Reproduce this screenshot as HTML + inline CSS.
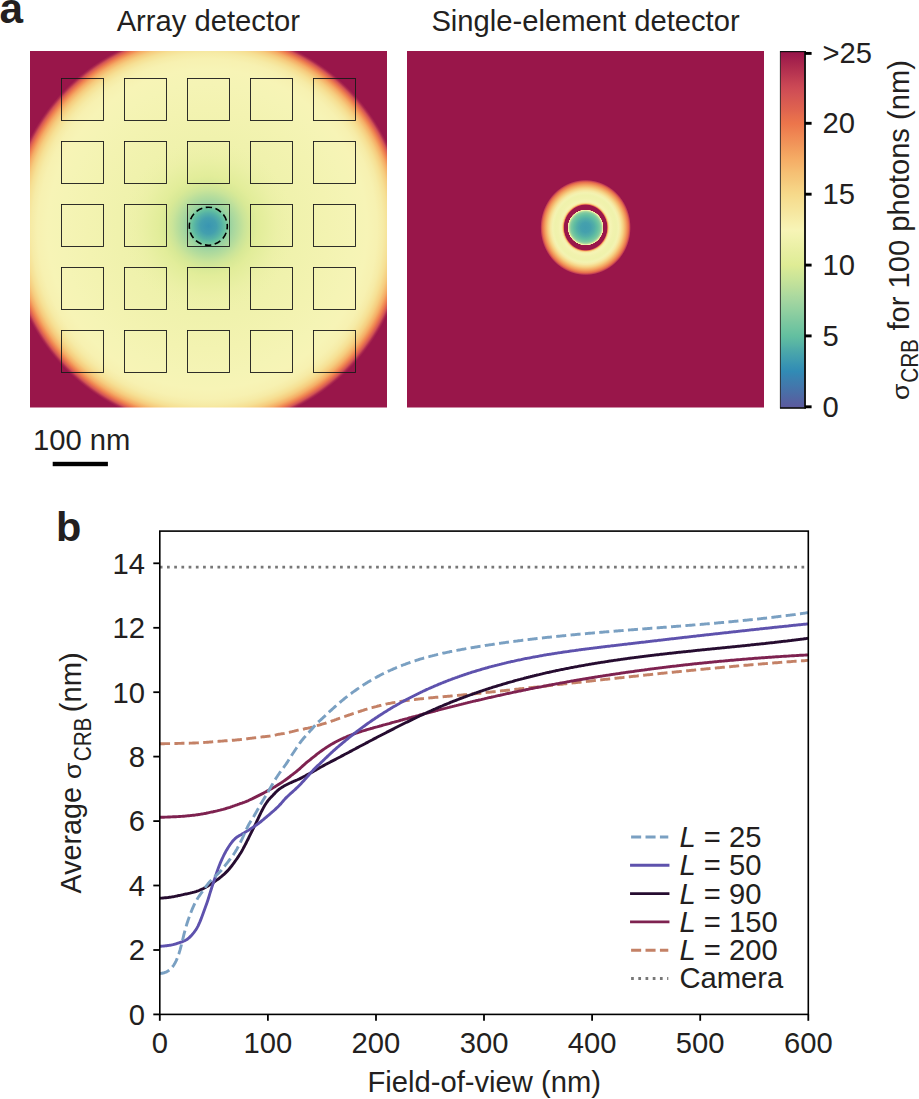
<!DOCTYPE html>
<html><head><meta charset="utf-8"><style>
html,body{margin:0;padding:0;background:#fff;overflow:hidden;}
svg{display:block;}
text{font-family:"Liberation Sans", sans-serif;fill:#231f20;}
</style></head><body>
<svg width="919" height="1099" viewBox="0 0 919 1099">
<defs>
<radialGradient id="gA" gradientUnits="userSpaceOnUse" cx="207.3" cy="229.0" r="215.0"><stop offset="0.0000" stop-color="#ecf1a8"/><stop offset="0.2791" stop-color="#edf1a9"/><stop offset="0.4186" stop-color="#f0f2ad"/><stop offset="0.5581" stop-color="#f3f3b1"/><stop offset="0.6744" stop-color="#f5f4b5"/><stop offset="0.7442" stop-color="#f7f4b6"/><stop offset="0.7907" stop-color="#f7f1b1"/><stop offset="0.8186" stop-color="#f6eba6"/><stop offset="0.8419" stop-color="#f6e094"/><stop offset="0.8628" stop-color="#f6cc7e"/><stop offset="0.8814" stop-color="#f5ac65"/><stop offset="0.8977" stop-color="#ee7e4f"/><stop offset="0.9116" stop-color="#d35354"/><stop offset="0.9209" stop-color="#aa274e"/><stop offset="0.9279" stop-color="#99164a"/><stop offset="1.0000" stop-color="#99164a"/></radialGradient>
<radialGradient id="gB" gradientUnits="userSpaceOnUse" cx="208.4" cy="226.0" r="85.0"><stop offset="0.0000" stop-color="#3995b2" stop-opacity="1.000"/><stop offset="0.0941" stop-color="#439fae" stop-opacity="1.000"/><stop offset="0.1529" stop-color="#55b1a6" stop-opacity="1.000"/><stop offset="0.1882" stop-color="#63bfa0" stop-opacity="1.000"/><stop offset="0.2118" stop-color="#73c5a0" stop-opacity="1.000"/><stop offset="0.2294" stop-color="#87cca0" stop-opacity="1.000"/><stop offset="0.2471" stop-color="#97d2a0" stop-opacity="1.000"/><stop offset="0.2941" stop-color="#a7d79f" stop-opacity="1.000"/><stop offset="0.3529" stop-color="#b6dd9c" stop-opacity="1.000"/><stop offset="0.4235" stop-color="#cae499" stop-opacity="1.000"/><stop offset="0.4941" stop-color="#d8e996" stop-opacity="1.000"/><stop offset="0.5882" stop-color="#e2ed9a" stop-opacity="1.000"/><stop offset="0.7059" stop-color="#e7efa1" stop-opacity="1.000"/><stop offset="0.8471" stop-color="#ebf0a6" stop-opacity="0.520"/><stop offset="1.0000" stop-color="#edf1a9" stop-opacity="0.000"/></radialGradient>
<radialGradient id="gSo" gradientUnits="userSpaceOnUse" cx="585.6" cy="227.5" r="48.0" gradientTransform="translate(585.6,227.5) scale(1,1.055) translate(-585.6,-227.5)"><stop offset="0.0000" stop-color="#99164a"/><stop offset="0.4417" stop-color="#99164a"/><stop offset="0.4500" stop-color="#c34053"/><stop offset="0.4604" stop-color="#f08b55"/><stop offset="0.4750" stop-color="#f6d183"/><stop offset="0.4937" stop-color="#f7edaa"/><stop offset="0.5208" stop-color="#f5f4b5"/><stop offset="0.5729" stop-color="#f1f2ae"/><stop offset="0.6354" stop-color="#eff2ac"/><stop offset="0.6875" stop-color="#f3f3b2"/><stop offset="0.7292" stop-color="#f6e9a4"/><stop offset="0.7812" stop-color="#f6d183"/><stop offset="0.8438" stop-color="#f3a15f"/><stop offset="0.8958" stop-color="#e66d4d"/><stop offset="0.9229" stop-color="#c34053"/><stop offset="0.9417" stop-color="#99164a"/><stop offset="0.9583" stop-color="#99164a"/><stop offset="1.0000" stop-color="#99164a"/></radialGradient>
<radialGradient id="gSi" gradientUnits="userSpaceOnUse" cx="585.6" cy="227.5" r="21.4"><stop offset="0.0000" stop-color="#419dae"/><stop offset="0.2336" stop-color="#45a1ad"/><stop offset="0.4206" stop-color="#53afa7"/><stop offset="0.5607" stop-color="#63bfa0"/><stop offset="0.6776" stop-color="#7dc8a0"/><stop offset="0.7477" stop-color="#a4d6a0"/><stop offset="0.7804" stop-color="#d3e897"/><stop offset="0.8037" stop-color="#f2f3b0"/><stop offset="0.8224" stop-color="#f6e9a4"/><stop offset="0.8364" stop-color="#99164a"/><stop offset="1.0000" stop-color="#99164a"/></radialGradient>
<linearGradient id="gC" x1="0" y1="1" x2="0" y2="0"><stop offset="0.0000" stop-color="#5b5a9e"/><stop offset="0.0034" stop-color="#5b5a9e"/><stop offset="0.0232" stop-color="#5364a2"/><stop offset="0.0431" stop-color="#4a6ea7"/><stop offset="0.0630" stop-color="#4278ac"/><stop offset="0.0828" stop-color="#3a81b0"/><stop offset="0.1027" stop-color="#318bb5"/><stop offset="0.1226" stop-color="#3995b2"/><stop offset="0.1425" stop-color="#439fae"/><stop offset="0.1623" stop-color="#4da9a9"/><stop offset="0.1822" stop-color="#59b5a4"/><stop offset="0.2021" stop-color="#63bfa0"/><stop offset="0.2219" stop-color="#70c4a0"/><stop offset="0.2418" stop-color="#7dc8a0"/><stop offset="0.2617" stop-color="#8acda0"/><stop offset="0.2815" stop-color="#97d2a0"/><stop offset="0.3014" stop-color="#a4d6a0"/><stop offset="0.3213" stop-color="#b0db9e"/><stop offset="0.3411" stop-color="#bddf9b"/><stop offset="0.3610" stop-color="#c8e499"/><stop offset="0.3809" stop-color="#d3e897"/><stop offset="0.4008" stop-color="#dfec95"/><stop offset="0.4206" stop-color="#e3ee9c"/><stop offset="0.4405" stop-color="#e8efa2"/><stop offset="0.4604" stop-color="#edf1a9"/><stop offset="0.4802" stop-color="#f2f3b0"/><stop offset="0.5001" stop-color="#f7f4b6"/><stop offset="0.5200" stop-color="#f7efad"/><stop offset="0.5398" stop-color="#f6e9a4"/><stop offset="0.5597" stop-color="#f6e49b"/><stop offset="0.5796" stop-color="#f6df93"/><stop offset="0.5995" stop-color="#f6d98a"/><stop offset="0.6193" stop-color="#f6d183"/><stop offset="0.6392" stop-color="#f5c87b"/><stop offset="0.6591" stop-color="#f5c074"/><stop offset="0.6789" stop-color="#f5b56c"/><stop offset="0.6988" stop-color="#f5ac65"/><stop offset="0.7187" stop-color="#f3a15f"/><stop offset="0.7385" stop-color="#f1965a"/><stop offset="0.7584" stop-color="#f08b55"/><stop offset="0.7783" stop-color="#ee8050"/><stop offset="0.7981" stop-color="#ec754b"/><stop offset="0.8180" stop-color="#e66d4d"/><stop offset="0.8379" stop-color="#df634f"/><stop offset="0.8578" stop-color="#d95b51"/><stop offset="0.8776" stop-color="#d35354"/><stop offset="0.8975" stop-color="#cd4a55"/><stop offset="0.9174" stop-color="#c34053"/><stop offset="0.9372" stop-color="#b83551"/><stop offset="0.9571" stop-color="#ae2b4e"/><stop offset="0.9770" stop-color="#a3204c"/><stop offset="0.9968" stop-color="#99164a"/><stop offset="1.0000" stop-color="#99164a"/></linearGradient>
<clipPath id="clP"><rect x="159.8" y="531.1" width="648.5" height="483.3"/></clipPath>
</defs>
<text x="-0.6" y="23.0" style="font-size:42.3px;font-weight:bold">a</text>
<text transform="translate(208.30,30.70) scale(1.000,1)" text-anchor="middle" style="font-size:29.20px">Array detector</text>
<text transform="translate(585.50,30.90) scale(1.000,1)" text-anchor="middle" style="font-size:29.20px">Single-element detector</text>
<rect x="30" y="51" width="357" height="356.5" fill="url(#gA)"/>
<rect x="30" y="51" width="357" height="356.5" fill="url(#gB)"/>
<g fill="none" stroke="#1a1a1a" stroke-width="0.9"><rect x="61.5" y="78.5" width="42" height="42"/><rect x="61.5" y="141.5" width="42" height="42"/><rect x="61.5" y="204.5" width="42" height="42"/><rect x="61.5" y="267.5" width="42" height="42"/><rect x="61.5" y="330.5" width="42" height="42"/><rect x="124.5" y="78.5" width="42" height="42"/><rect x="124.5" y="141.5" width="42" height="42"/><rect x="124.5" y="204.5" width="42" height="42"/><rect x="124.5" y="267.5" width="42" height="42"/><rect x="124.5" y="330.5" width="42" height="42"/><rect x="187.5" y="78.5" width="42" height="42"/><rect x="187.5" y="141.5" width="42" height="42"/><rect x="187.5" y="204.5" width="42" height="42"/><rect x="187.5" y="267.5" width="42" height="42"/><rect x="187.5" y="330.5" width="42" height="42"/><rect x="250.5" y="78.5" width="42" height="42"/><rect x="250.5" y="141.5" width="42" height="42"/><rect x="250.5" y="204.5" width="42" height="42"/><rect x="250.5" y="267.5" width="42" height="42"/><rect x="250.5" y="330.5" width="42" height="42"/><rect x="313.5" y="78.5" width="42" height="42"/><rect x="313.5" y="141.5" width="42" height="42"/><rect x="313.5" y="204.5" width="42" height="42"/><rect x="313.5" y="267.5" width="42" height="42"/><rect x="313.5" y="330.5" width="42" height="42"/></g>
<circle cx="208.3" cy="226.2" r="19" fill="none" stroke="#000" stroke-width="1.6" stroke-dasharray="6.5 3.449" stroke-dashoffset="3.25"/>
<rect x="407" y="51" width="357" height="356.5" fill="url(#gSo)"/>
<circle cx="585.6" cy="227.5" r="21.4" fill="url(#gSi)"/>
<rect x="780.3" y="51.4" width="24.7" height="356.6" fill="url(#gC)" stroke="#111" stroke-width="0.8"/>
<line x1="780" y1="408" x2="806" y2="408" stroke="#111" stroke-width="1.4"/>
<line x1="780" y1="51.6" x2="806" y2="51.6" stroke="#111" stroke-width="1.2"/>
<line x1="805" y1="51" x2="805" y2="408.5" stroke="#111" stroke-width="1.8"/>
<g stroke="#000" stroke-width="2.9"><line x1="805" y1="53.4" x2="811.6" y2="53.4"/><line x1="805" y1="123.3" x2="811.6" y2="123.3"/><line x1="805" y1="194.2" x2="811.6" y2="194.2"/><line x1="805" y1="265.1" x2="811.6" y2="265.1"/><line x1="805" y1="335.9" x2="811.6" y2="335.9"/><line x1="805" y1="406.8" x2="811.6" y2="406.8"/></g>
<text transform="translate(822.50,63.10) scale(1.000,1)" text-anchor="start" style="font-size:29.20px">&gt;25</text><text transform="translate(822.50,133.00) scale(1.000,1)" text-anchor="start" style="font-size:29.20px">20</text><text transform="translate(822.50,203.88) scale(1.000,1)" text-anchor="start" style="font-size:29.20px">15</text><text transform="translate(822.50,274.75) scale(1.000,1)" text-anchor="start" style="font-size:29.20px">10</text><text transform="translate(822.50,345.62) scale(1.000,1)" text-anchor="start" style="font-size:29.20px">5</text><text transform="translate(822.50,416.50) scale(1.000,1)" text-anchor="start" style="font-size:29.20px">0</text>
<g transform="translate(909.0,399.0) rotate(-90)"><text transform="translate(-1.10,0.00) scale(1.083,1)" text-anchor="start" style="font-size:24.60px">σ</text><text transform="translate(16.20,9.20) scale(0.900,1)" text-anchor="start" style="font-size:23.00px">CRB</text><text transform="translate(68.50,0.00) scale(0.998,1)" text-anchor="start" style="font-size:29.20px">for 100 photons (nm)</text></g>
<text transform="translate(33.00,449.80) scale(1.000,1)" text-anchor="start" style="font-size:29.20px">100 nm</text>
<rect x="52.7" y="461.8" width="55.2" height="4.4" fill="#000"/>
<text x="56" y="540.7" style="font-size:41.5px;font-weight:bold">b</text>
<line x1="159.8" y1="567.1" x2="808.3" y2="567.1" stroke="#777777" stroke-width="2.9" stroke-dasharray="2.72 4.49"/>
<g clip-path="url(#clP)" fill="none" stroke-width="2.9" stroke-linejoin="round">
<path d="M160.0 743.7 L161.0 743.7 L162.0 743.7 L163.0 743.7 L164.0 743.7 L165.0 743.6 L166.0 743.6 L167.0 743.6 L168.0 743.6 L169.0 743.6 L170.0 743.6 L171.0 743.6 L172.0 743.5 L173.0 743.5 L174.0 743.5 L175.0 743.5 L176.0 743.5 L177.0 743.5 L178.0 743.4 L179.0 743.4 L180.0 743.4 L181.0 743.4 L182.0 743.3 L183.0 743.3 L184.0 743.3 L185.0 743.3 L186.0 743.3 L187.0 743.2 L188.0 743.2 L189.0 743.2 L190.0 743.1 L191.0 743.1 L192.0 743.1 L193.0 743.0 L194.0 743.0 L195.0 743.0 L196.0 742.9 L197.0 742.9 L198.0 742.9 L199.0 742.8 L200.0 742.8 L201.0 742.7 L202.0 742.7 L203.0 742.6 L204.0 742.5 L205.0 742.4 L206.0 742.4 L207.0 742.3 L208.0 742.2 L209.0 742.1 L210.0 742.0 L211.0 742.0 L212.0 741.9 L213.0 741.8 L214.0 741.7 L215.0 741.6 L216.0 741.5 L217.0 741.4 L218.0 741.4 L219.0 741.3 L220.0 741.2 L221.0 741.1 L222.0 741.1 L223.0 741.0 L224.0 740.9 L225.0 740.8 L226.0 740.8 L227.0 740.7 L228.0 740.6 L229.0 740.6 L230.0 740.5 L231.0 740.4 L232.0 740.3 L233.0 740.3 L234.0 740.2 L235.0 740.1 L236.0 740.0 L237.0 739.9 L238.0 739.8 L239.0 739.7 L240.0 739.6 L241.0 739.5 L242.0 739.4 L243.0 739.3 L244.0 739.2 L245.0 739.1 L246.0 738.9 L247.0 738.8 L248.0 738.7 L249.0 738.5 L250.0 738.4 L251.0 738.3 L252.0 738.1 L253.0 738.0 L254.0 737.9 L255.0 737.8 L256.0 737.6 L257.0 737.5 L258.0 737.4 L259.0 737.3 L260.0 737.2 L261.0 737.1 L262.0 736.9 L263.0 736.8 L264.0 736.7 L265.0 736.6 L266.0 736.5 L267.0 736.4 L268.0 736.3 L269.0 736.1 L270.0 736.0 L271.0 735.8 L272.0 735.7 L273.0 735.5 L274.0 735.3 L275.0 735.1 L276.0 734.9 L277.0 734.6 L278.0 734.4 L279.0 734.2 L280.0 734.1 L281.0 733.9 L282.0 733.7 L283.0 733.6 L284.0 733.5 L285.0 733.3 L286.0 733.1 L287.0 732.9 L288.0 732.6 L289.0 732.4 L290.0 732.1 L291.0 731.8 L292.0 731.6 L293.0 731.3 L294.0 731.1 L295.0 730.8 L296.0 730.6 L297.0 730.4 L298.0 730.2 L299.0 730.0 L300.0 729.8 L301.0 729.6 L302.0 729.4 L303.0 729.2 L304.0 729.0 L305.0 728.7 L306.0 728.5 L307.0 728.3 L308.0 728.1 L309.0 727.8 L310.0 727.6 L311.0 727.3 L312.0 727.1 L313.0 726.8 L314.0 726.5 L315.0 726.2 L316.0 726.0 L317.0 725.7 L318.0 725.4 L319.0 725.1 L320.0 724.8 L321.0 724.5 L322.0 724.2 L323.0 723.9 L324.0 723.6 L325.0 723.3 L326.0 723.0 L327.0 722.6 L328.0 722.3 L329.0 722.0 L330.0 721.7 L331.0 721.3 L332.0 721.0 L333.0 720.6 L334.0 720.3 L335.0 719.9 L336.0 719.6 L337.0 719.2 L338.0 718.8 L339.0 718.5 L340.0 718.1 L341.0 717.8 L342.0 717.4 L343.0 717.1 L344.0 716.7 L345.0 716.4 L346.0 716.0 L347.0 715.7 L348.0 715.3 L349.0 715.0 L350.0 714.7 L351.0 714.3 L352.0 714.0 L353.0 713.6 L354.0 713.3 L355.0 713.0 L356.0 712.6 L357.0 712.3 L358.0 712.0 L359.0 711.6 L360.0 711.3 L361.0 711.0 L362.0 710.7 L363.0 710.4 L364.0 710.0 L365.0 709.7 L366.0 709.4 L367.0 709.1 L368.0 708.8 L369.0 708.5 L370.0 708.2 L371.0 707.9 L372.0 707.7 L373.0 707.4 L374.0 707.1 L375.0 706.8 L376.0 706.6 L377.0 706.3 L378.0 706.0 L379.0 705.8 L380.0 705.5 L381.0 705.3 L382.0 705.0 L383.0 704.8 L384.0 704.6 L385.0 704.4 L386.0 704.1 L387.0 703.9 L388.0 703.7 L389.0 703.5 L390.0 703.3 L391.0 703.1 L392.0 702.9 L393.0 702.7 L394.0 702.6 L395.0 702.4 L396.0 702.2 L397.0 702.0 L398.0 701.9 L399.0 701.7 L400.0 701.5 L401.0 701.4 L402.0 701.2 L403.0 701.1 L404.0 700.9 L405.0 700.8 L406.0 700.6 L407.0 700.5 L408.0 700.3 L409.0 700.2 L410.0 700.1 L411.0 700.0 L412.0 699.8 L413.0 699.7 L414.0 699.6 L415.0 699.5 L416.0 699.3 L417.0 699.2 L418.0 699.1 L419.0 699.0 L420.0 698.9 L421.0 698.8 L422.0 698.7 L423.0 698.6 L424.0 698.5 L425.0 698.4 L426.0 698.3 L427.0 698.2 L428.0 698.1 L429.0 698.0 L430.0 697.9 L431.0 697.8 L432.0 697.7 L433.0 697.6 L434.0 697.5 L435.0 697.4 L436.0 697.3 L437.0 697.3 L438.0 697.2 L439.0 697.1 L440.0 697.0 L441.0 696.9 L442.0 696.8 L443.0 696.7 L444.0 696.6 L445.0 696.5 L446.0 696.5 L447.0 696.4 L448.0 696.3 L449.0 696.2 L450.0 696.1 L451.0 696.0 L452.0 695.9 L453.0 695.8 L454.0 695.7 L455.0 695.6 L456.0 695.5 L457.0 695.4 L458.0 695.4 L459.0 695.3 L460.0 695.2 L461.0 695.1 L462.0 695.0 L463.0 694.9 L464.0 694.8 L465.0 694.7 L466.0 694.6 L467.0 694.5 L468.0 694.4 L469.0 694.3 L470.0 694.2 L471.0 694.1 L472.0 694.0 L473.0 693.9 L474.0 693.8 L475.0 693.7 L476.0 693.6 L477.0 693.5 L478.0 693.4 L479.0 693.3 L480.0 693.2 L481.0 693.1 L482.0 693.0 L483.0 692.8 L484.0 692.7 L485.0 692.6 L486.0 692.5 L487.0 692.4 L488.0 692.3 L489.0 692.2 L490.0 692.1 L491.0 692.0 L492.0 691.9 L493.0 691.8 L494.0 691.7 L495.0 691.6 L496.0 691.5 L497.0 691.4 L498.0 691.3 L499.0 691.1 L500.0 691.0 L501.0 690.9 L502.0 690.8 L503.0 690.7 L504.0 690.6 L505.0 690.5 L506.0 690.4 L507.0 690.3 L508.0 690.2 L509.0 690.1 L510.0 689.9 L511.0 689.8 L512.0 689.7 L513.0 689.6 L514.0 689.5 L515.0 689.4 L516.0 689.3 L517.0 689.2 L518.0 689.1 L519.0 688.9 L520.0 688.8 L521.0 688.7 L522.0 688.6 L523.0 688.5 L524.0 688.4 L525.0 688.3 L526.0 688.2 L527.0 688.1 L528.0 688.0 L529.0 687.8 L530.0 687.7 L531.0 687.6 L532.0 687.5 L533.0 687.4 L534.0 687.3 L535.0 687.2 L536.0 687.1 L537.0 687.0 L538.0 686.8 L539.0 686.7 L540.0 686.6 L541.0 686.5 L542.0 686.4 L543.0 686.3 L544.0 686.2 L545.0 686.1 L546.0 686.0 L547.0 685.8 L548.0 685.7 L549.0 685.6 L550.0 685.5 L551.0 685.4 L552.0 685.3 L553.0 685.2 L554.0 685.1 L555.0 685.0 L556.0 684.8 L557.0 684.7 L558.0 684.6 L559.0 684.5 L560.0 684.4 L561.0 684.3 L562.0 684.2 L563.0 684.1 L564.0 683.9 L565.0 683.8 L566.0 683.7 L567.0 683.6 L568.0 683.5 L569.0 683.4 L570.0 683.3 L571.0 683.2 L572.0 683.1 L573.0 682.9 L574.0 682.8 L575.0 682.7 L576.0 682.6 L577.0 682.5 L578.0 682.4 L579.0 682.3 L580.0 682.2 L581.0 682.1 L582.0 682.0 L583.0 681.8 L584.0 681.7 L585.0 681.6 L586.0 681.5 L587.0 681.4 L588.0 681.3 L589.0 681.2 L590.0 681.1 L591.0 681.0 L592.0 680.8 L593.0 680.7 L594.0 680.6 L595.0 680.5 L596.0 680.4 L597.0 680.3 L598.0 680.2 L599.0 680.1 L600.0 680.0 L601.0 679.9 L602.0 679.7 L603.0 679.6 L604.0 679.5 L605.0 679.4 L606.0 679.3 L607.0 679.2 L608.0 679.1 L609.0 679.0 L610.0 678.9 L611.0 678.8 L612.0 678.6 L613.0 678.5 L614.0 678.4 L615.0 678.3 L616.0 678.2 L617.0 678.1 L618.0 678.0 L619.0 677.9 L620.0 677.8 L621.0 677.7 L622.0 677.6 L623.0 677.5 L624.0 677.3 L625.0 677.2 L626.0 677.1 L627.0 677.0 L628.0 676.9 L629.0 676.8 L630.0 676.7 L631.0 676.6 L632.0 676.5 L633.0 676.4 L634.0 676.3 L635.0 676.2 L636.0 676.1 L637.0 676.0 L638.0 675.8 L639.0 675.7 L640.0 675.6 L641.0 675.5 L642.0 675.4 L643.0 675.3 L644.0 675.2 L645.0 675.1 L646.0 675.0 L647.0 674.9 L648.0 674.8 L649.0 674.7 L650.0 674.6 L651.0 674.5 L652.0 674.4 L653.0 674.3 L654.0 674.2 L655.0 674.0 L656.0 673.9 L657.0 673.8 L658.0 673.7 L659.0 673.6 L660.0 673.5 L661.0 673.4 L662.0 673.3 L663.0 673.2 L664.0 673.1 L665.0 673.0 L666.0 672.9 L667.0 672.8 L668.0 672.7 L669.0 672.6 L670.0 672.5 L671.0 672.4 L672.0 672.3 L673.0 672.2 L674.0 672.1 L675.0 672.0 L676.0 671.9 L677.0 671.8 L678.0 671.7 L679.0 671.6 L680.0 671.5 L681.0 671.4 L682.0 671.3 L683.0 671.2 L684.0 671.1 L685.0 671.0 L686.0 670.9 L687.0 670.8 L688.0 670.7 L689.0 670.6 L690.0 670.5 L691.0 670.4 L692.0 670.3 L693.0 670.2 L694.0 670.1 L695.0 670.0 L696.0 669.9 L697.0 669.8 L698.0 669.7 L699.0 669.6 L700.0 669.5 L701.0 669.4 L702.0 669.3 L703.0 669.2 L704.0 669.1 L705.0 669.0 L706.0 668.9 L707.0 668.8 L708.0 668.7 L709.0 668.6 L710.0 668.5 L711.0 668.4 L712.0 668.3 L713.0 668.2 L714.0 668.2 L715.0 668.1 L716.0 668.0 L717.0 667.9 L718.0 667.8 L719.0 667.7 L720.0 667.6 L721.0 667.5 L722.0 667.4 L723.0 667.3 L724.0 667.2 L725.0 667.1 L726.0 667.0 L727.0 666.9 L728.0 666.9 L729.0 666.8 L730.0 666.7 L731.0 666.6 L732.0 666.5 L733.0 666.4 L734.0 666.3 L735.0 666.2 L736.0 666.1 L737.0 666.0 L738.0 665.9 L739.0 665.9 L740.0 665.8 L741.0 665.7 L742.0 665.6 L743.0 665.5 L744.0 665.4 L745.0 665.3 L746.0 665.2 L747.0 665.2 L748.0 665.1 L749.0 665.0 L750.0 664.9 L751.0 664.8 L752.0 664.7 L753.0 664.6 L754.0 664.6 L755.0 664.5 L756.0 664.4 L757.0 664.3 L758.0 664.2 L759.0 664.1 L760.0 664.1 L761.0 664.0 L762.0 663.9 L763.0 663.8 L764.0 663.7 L765.0 663.6 L766.0 663.6 L767.0 663.5 L768.0 663.4 L769.0 663.3 L770.0 663.2 L771.0 663.1 L772.0 663.1 L773.0 663.0 L774.0 662.9 L775.0 662.8 L776.0 662.8 L777.0 662.7 L778.0 662.6 L779.0 662.5 L780.0 662.4 L781.0 662.4 L782.0 662.3 L783.0 662.2 L784.0 662.1 L785.0 662.1 L786.0 662.0 L787.0 661.9 L788.0 661.8 L789.0 661.7 L790.0 661.7 L791.0 661.6 L792.0 661.5 L793.0 661.4 L794.0 661.4 L795.0 661.3 L796.0 661.2 L797.0 661.2 L798.0 661.1 L799.0 661.0 L800.0 660.9 L801.0 660.9 L802.0 660.8 L803.0 660.7 L804.0 660.7 L805.0 660.6 L806.0 660.5 L807.0 660.4 L808.0 660.4" stroke="#c48166" stroke-dasharray="10.06 4.35"/>
<path d="M160.0 817.2 L161.0 817.2 L162.0 817.2 L163.0 817.2 L164.0 817.2 L165.0 817.1 L166.0 817.1 L167.0 817.1 L168.0 817.0 L169.0 817.0 L170.0 817.0 L171.0 816.9 L172.0 816.9 L173.0 816.8 L174.0 816.8 L175.0 816.7 L176.0 816.7 L177.0 816.6 L178.0 816.6 L179.0 816.5 L180.0 816.5 L181.0 816.4 L182.0 816.4 L183.0 816.3 L184.0 816.2 L185.0 816.1 L186.0 816.0 L187.0 815.9 L188.0 815.8 L189.0 815.7 L190.0 815.6 L191.0 815.5 L192.0 815.4 L193.0 815.3 L194.0 815.2 L195.0 815.1 L196.0 814.9 L197.0 814.8 L198.0 814.7 L199.0 814.5 L200.0 814.4 L201.0 814.2 L202.0 814.0 L203.0 813.9 L204.0 813.7 L205.0 813.5 L206.0 813.3 L207.0 813.0 L208.0 812.8 L209.0 812.6 L210.0 812.4 L211.0 812.2 L212.0 812.0 L213.0 811.8 L214.0 811.5 L215.0 811.3 L216.0 811.1 L217.0 810.9 L218.0 810.6 L219.0 810.4 L220.0 810.2 L221.0 809.9 L222.0 809.6 L223.0 809.4 L224.0 809.1 L225.0 808.8 L226.0 808.5 L227.0 808.2 L228.0 807.9 L229.0 807.6 L230.0 807.3 L231.0 806.9 L232.0 806.6 L233.0 806.2 L234.0 805.9 L235.0 805.5 L236.0 805.1 L237.0 804.8 L238.0 804.4 L239.0 804.1 L240.0 803.7 L241.0 803.4 L242.0 803.1 L243.0 802.7 L244.0 802.4 L245.0 802.0 L246.0 801.6 L247.0 801.2 L248.0 800.8 L249.0 800.3 L250.0 799.8 L251.0 799.3 L252.0 798.9 L253.0 798.4 L254.0 797.9 L255.0 797.4 L256.0 796.9 L257.0 796.4 L258.0 795.9 L259.0 795.4 L260.0 794.9 L261.0 794.4 L262.0 793.9 L263.0 793.4 L264.0 792.8 L265.0 792.3 L266.0 791.7 L267.0 791.1 L268.0 790.6 L269.0 790.0 L270.0 789.5 L271.0 789.0 L272.0 788.4 L273.0 787.8 L274.0 787.3 L275.0 786.7 L276.0 786.1 L277.0 785.4 L278.0 784.8 L279.0 784.2 L280.0 783.6 L281.0 782.9 L282.0 782.3 L283.0 781.6 L284.0 780.9 L285.0 780.2 L286.0 779.5 L287.0 778.8 L288.0 778.0 L289.0 777.3 L290.0 776.5 L291.0 775.7 L292.0 774.9 L293.0 774.2 L294.0 773.4 L295.0 772.6 L296.0 771.8 L297.0 771.0 L298.0 770.2 L299.0 769.3 L300.0 768.5 L301.0 767.5 L302.0 766.6 L303.0 765.7 L304.0 764.8 L305.0 763.9 L306.0 763.0 L307.0 762.2 L308.0 761.4 L309.0 760.6 L310.0 759.8 L311.0 759.0 L312.0 758.2 L313.0 757.4 L314.0 756.6 L315.0 755.8 L316.0 755.0 L317.0 754.2 L318.0 753.4 L319.0 752.7 L320.0 751.9 L321.0 751.2 L322.0 750.5 L323.0 749.8 L324.0 749.1 L325.0 748.4 L326.0 747.7 L327.0 747.1 L328.0 746.4 L329.0 745.8 L330.0 745.2 L331.0 744.6 L332.0 744.0 L333.0 743.4 L334.0 742.9 L335.0 742.3 L336.0 741.8 L337.0 741.3 L338.0 740.8 L339.0 740.3 L340.0 739.8 L341.0 739.3 L342.0 738.8 L343.0 738.4 L344.0 737.9 L345.0 737.5 L346.0 737.1 L347.0 736.6 L348.0 736.2 L349.0 735.8 L350.0 735.4 L351.0 735.0 L352.0 734.6 L353.0 734.3 L354.0 733.9 L355.0 733.5 L356.0 733.2 L357.0 732.8 L358.0 732.5 L359.0 732.2 L360.0 731.8 L361.0 731.5 L362.0 731.2 L363.0 730.9 L364.0 730.6 L365.0 730.3 L366.0 730.0 L367.0 729.7 L368.0 729.4 L369.0 729.1 L370.0 728.8 L371.0 728.5 L372.0 728.3 L373.0 728.0 L374.0 727.7 L375.0 727.4 L376.0 727.1 L377.0 726.9 L378.0 726.6 L379.0 726.3 L380.0 726.0 L381.0 725.8 L382.0 725.5 L383.0 725.2 L384.0 724.9 L385.0 724.7 L386.0 724.4 L387.0 724.1 L388.0 723.8 L389.0 723.6 L390.0 723.3 L391.0 723.0 L392.0 722.7 L393.0 722.4 L394.0 722.2 L395.0 721.9 L396.0 721.6 L397.0 721.3 L398.0 721.1 L399.0 720.8 L400.0 720.5 L401.0 720.2 L402.0 720.0 L403.0 719.7 L404.0 719.4 L405.0 719.1 L406.0 718.8 L407.0 718.6 L408.0 718.3 L409.0 718.0 L410.0 717.7 L411.0 717.5 L412.0 717.2 L413.0 716.9 L414.0 716.6 L415.0 716.4 L416.0 716.1 L417.0 715.8 L418.0 715.6 L419.0 715.3 L420.0 715.0 L421.0 714.7 L422.0 714.5 L423.0 714.2 L424.0 713.9 L425.0 713.7 L426.0 713.4 L427.0 713.1 L428.0 712.9 L429.0 712.6 L430.0 712.3 L431.0 712.0 L432.0 711.8 L433.0 711.5 L434.0 711.3 L435.0 711.0 L436.0 710.7 L437.0 710.5 L438.0 710.2 L439.0 709.9 L440.0 709.7 L441.0 709.4 L442.0 709.2 L443.0 708.9 L444.0 708.6 L445.0 708.4 L446.0 708.1 L447.0 707.9 L448.0 707.6 L449.0 707.4 L450.0 707.1 L451.0 706.8 L452.0 706.6 L453.0 706.3 L454.0 706.1 L455.0 705.8 L456.0 705.6 L457.0 705.3 L458.0 705.1 L459.0 704.8 L460.0 704.6 L461.0 704.4 L462.0 704.1 L463.0 703.9 L464.0 703.6 L465.0 703.4 L466.0 703.1 L467.0 702.9 L468.0 702.6 L469.0 702.4 L470.0 702.2 L471.0 701.9 L472.0 701.7 L473.0 701.4 L474.0 701.2 L475.0 701.0 L476.0 700.7 L477.0 700.5 L478.0 700.3 L479.0 700.0 L480.0 699.8 L481.0 699.6 L482.0 699.3 L483.0 699.1 L484.0 698.9 L485.0 698.6 L486.0 698.4 L487.0 698.2 L488.0 697.9 L489.0 697.7 L490.0 697.5 L491.0 697.3 L492.0 697.0 L493.0 696.8 L494.0 696.6 L495.0 696.4 L496.0 696.1 L497.0 695.9 L498.0 695.7 L499.0 695.5 L500.0 695.3 L501.0 695.0 L502.0 694.8 L503.0 694.6 L504.0 694.4 L505.0 694.2 L506.0 693.9 L507.0 693.7 L508.0 693.5 L509.0 693.3 L510.0 693.1 L511.0 692.9 L512.0 692.7 L513.0 692.4 L514.0 692.2 L515.0 692.0 L516.0 691.8 L517.0 691.6 L518.0 691.4 L519.0 691.2 L520.0 691.0 L521.0 690.8 L522.0 690.6 L523.0 690.4 L524.0 690.2 L525.0 690.0 L526.0 689.7 L527.0 689.5 L528.0 689.3 L529.0 689.1 L530.0 688.9 L531.0 688.7 L532.0 688.5 L533.0 688.3 L534.0 688.1 L535.0 687.9 L536.0 687.7 L537.0 687.5 L538.0 687.3 L539.0 687.2 L540.0 687.0 L541.0 686.8 L542.0 686.6 L543.0 686.4 L544.0 686.2 L545.0 686.0 L546.0 685.8 L547.0 685.6 L548.0 685.4 L549.0 685.2 L550.0 685.0 L551.0 684.9 L552.0 684.7 L553.0 684.5 L554.0 684.3 L555.0 684.1 L556.0 683.9 L557.0 683.7 L558.0 683.6 L559.0 683.4 L560.0 683.2 L561.0 683.0 L562.0 682.8 L563.0 682.6 L564.0 682.5 L565.0 682.3 L566.0 682.1 L567.0 681.9 L568.0 681.7 L569.0 681.6 L570.0 681.4 L571.0 681.2 L572.0 681.0 L573.0 680.9 L574.0 680.7 L575.0 680.5 L576.0 680.3 L577.0 680.2 L578.0 680.0 L579.0 679.8 L580.0 679.7 L581.0 679.5 L582.0 679.3 L583.0 679.2 L584.0 679.0 L585.0 678.8 L586.0 678.7 L587.0 678.5 L588.0 678.3 L589.0 678.2 L590.0 678.0 L591.0 677.8 L592.0 677.7 L593.0 677.5 L594.0 677.3 L595.0 677.2 L596.0 677.0 L597.0 676.9 L598.0 676.7 L599.0 676.5 L600.0 676.4 L601.0 676.2 L602.0 676.1 L603.0 675.9 L604.0 675.7 L605.0 675.6 L606.0 675.4 L607.0 675.3 L608.0 675.1 L609.0 675.0 L610.0 674.8 L611.0 674.7 L612.0 674.5 L613.0 674.4 L614.0 674.2 L615.0 674.1 L616.0 673.9 L617.0 673.8 L618.0 673.6 L619.0 673.5 L620.0 673.3 L621.0 673.2 L622.0 673.0 L623.0 672.9 L624.0 672.7 L625.0 672.6 L626.0 672.4 L627.0 672.3 L628.0 672.2 L629.0 672.0 L630.0 671.9 L631.0 671.7 L632.0 671.6 L633.0 671.5 L634.0 671.3 L635.0 671.2 L636.0 671.0 L637.0 670.9 L638.0 670.8 L639.0 670.6 L640.0 670.5 L641.0 670.4 L642.0 670.2 L643.0 670.1 L644.0 670.0 L645.0 669.8 L646.0 669.7 L647.0 669.6 L648.0 669.4 L649.0 669.3 L650.0 669.2 L651.0 669.0 L652.0 668.9 L653.0 668.8 L654.0 668.6 L655.0 668.5 L656.0 668.4 L657.0 668.3 L658.0 668.1 L659.0 668.0 L660.0 667.9 L661.0 667.8 L662.0 667.6 L663.0 667.5 L664.0 667.4 L665.0 667.3 L666.0 667.1 L667.0 667.0 L668.0 666.9 L669.0 666.8 L670.0 666.7 L671.0 666.5 L672.0 666.4 L673.0 666.3 L674.0 666.2 L675.0 666.1 L676.0 666.0 L677.0 665.8 L678.0 665.7 L679.0 665.6 L680.0 665.5 L681.0 665.4 L682.0 665.3 L683.0 665.2 L684.0 665.0 L685.0 664.9 L686.0 664.8 L687.0 664.7 L688.0 664.6 L689.0 664.5 L690.0 664.4 L691.0 664.3 L692.0 664.2 L693.0 664.0 L694.0 663.9 L695.0 663.8 L696.0 663.7 L697.0 663.6 L698.0 663.5 L699.0 663.4 L700.0 663.3 L701.0 663.2 L702.0 663.1 L703.0 663.0 L704.0 662.9 L705.0 662.8 L706.0 662.7 L707.0 662.6 L708.0 662.5 L709.0 662.4 L710.0 662.3 L711.0 662.2 L712.0 662.1 L713.0 662.0 L714.0 661.9 L715.0 661.8 L716.0 661.7 L717.0 661.6 L718.0 661.5 L719.0 661.4 L720.0 661.3 L721.0 661.2 L722.0 661.1 L723.0 661.1 L724.0 661.0 L725.0 660.9 L726.0 660.8 L727.0 660.7 L728.0 660.6 L729.0 660.5 L730.0 660.4 L731.0 660.3 L732.0 660.2 L733.0 660.2 L734.0 660.1 L735.0 660.0 L736.0 659.9 L737.0 659.8 L738.0 659.7 L739.0 659.6 L740.0 659.6 L741.0 659.5 L742.0 659.4 L743.0 659.3 L744.0 659.2 L745.0 659.1 L746.0 659.1 L747.0 659.0 L748.0 658.9 L749.0 658.8 L750.0 658.7 L751.0 658.7 L752.0 658.6 L753.0 658.5 L754.0 658.4 L755.0 658.3 L756.0 658.3 L757.0 658.2 L758.0 658.1 L759.0 658.0 L760.0 658.0 L761.0 657.9 L762.0 657.8 L763.0 657.7 L764.0 657.7 L765.0 657.6 L766.0 657.5 L767.0 657.5 L768.0 657.4 L769.0 657.3 L770.0 657.2 L771.0 657.2 L772.0 657.1 L773.0 657.0 L774.0 657.0 L775.0 656.9 L776.0 656.8 L777.0 656.8 L778.0 656.7 L779.0 656.6 L780.0 656.6 L781.0 656.5 L782.0 656.4 L783.0 656.4 L784.0 656.3 L785.0 656.2 L786.0 656.2 L787.0 656.1 L788.0 656.1 L789.0 656.0 L790.0 655.9 L791.0 655.9 L792.0 655.8 L793.0 655.7 L794.0 655.7 L795.0 655.6 L796.0 655.6 L797.0 655.5 L798.0 655.5 L799.0 655.4 L800.0 655.3 L801.0 655.3 L802.0 655.2 L803.0 655.2 L804.0 655.1 L805.0 655.1 L806.0 655.0 L807.0 655.0 L808.0 654.9" stroke="#7e2250"/>
<path d="M160.0 898.2 L161.0 898.1 L162.0 898.1 L163.0 898.0 L164.0 897.9 L165.0 897.8 L166.0 897.7 L167.0 897.6 L168.0 897.5 L169.0 897.3 L170.0 897.2 L171.0 897.1 L172.0 896.9 L173.0 896.8 L174.0 896.6 L175.0 896.4 L176.0 896.2 L177.0 896.0 L178.0 895.7 L179.0 895.5 L180.0 895.3 L181.0 895.1 L182.0 894.9 L183.0 894.7 L184.0 894.4 L185.0 894.2 L186.0 894.0 L187.0 893.8 L188.0 893.6 L189.0 893.4 L190.0 893.2 L191.0 892.9 L192.0 892.7 L193.0 892.4 L194.0 892.2 L195.0 891.9 L196.0 891.6 L197.0 891.2 L198.0 890.9 L199.0 890.5 L200.0 890.0 L201.0 889.6 L202.0 889.2 L203.0 888.7 L204.0 888.2 L205.0 887.6 L206.0 887.1 L207.0 886.5 L208.0 885.9 L209.0 885.2 L210.0 884.6 L211.0 884.0 L212.0 883.3 L213.0 882.7 L214.0 882.0 L215.0 881.3 L216.0 880.6 L217.0 879.9 L218.0 879.2 L219.0 878.5 L220.0 877.7 L221.0 876.9 L222.0 876.0 L223.0 875.2 L224.0 874.3 L225.0 873.4 L226.0 872.4 L227.0 871.4 L228.0 870.4 L229.0 869.2 L230.0 868.0 L231.0 866.8 L232.0 865.5 L233.0 864.2 L234.0 862.8 L235.0 861.4 L236.0 860.0 L237.0 858.6 L238.0 857.1 L239.0 855.6 L240.0 854.0 L241.0 852.4 L242.0 850.7 L243.0 848.9 L244.0 847.0 L245.0 845.1 L246.0 843.2 L247.0 841.2 L248.0 839.3 L249.0 837.2 L250.0 835.2 L251.0 833.2 L252.0 831.2 L253.0 829.2 L254.0 827.2 L255.0 825.1 L256.0 823.0 L257.0 820.9 L258.0 818.8 L259.0 816.7 L260.0 814.6 L261.0 812.5 L262.0 810.5 L263.0 808.6 L264.0 806.8 L265.0 805.1 L266.0 803.5 L267.0 802.0 L268.0 800.7 L269.0 799.4 L270.0 798.3 L271.0 797.3 L272.0 796.2 L273.0 795.2 L274.0 794.1 L275.0 793.1 L276.0 792.0 L277.0 791.1 L278.0 790.2 L279.0 789.3 L280.0 788.6 L281.0 787.9 L282.0 787.3 L283.0 786.7 L284.0 786.1 L285.0 785.5 L286.0 785.0 L287.0 784.5 L288.0 784.0 L289.0 783.5 L290.0 783.0 L291.0 782.6 L292.0 782.1 L293.0 781.7 L294.0 781.2 L295.0 780.8 L296.0 780.4 L297.0 780.0 L298.0 779.5 L299.0 779.1 L300.0 778.6 L301.0 778.1 L302.0 777.6 L303.0 777.0 L304.0 776.5 L305.0 776.0 L306.0 775.4 L307.0 774.9 L308.0 774.4 L309.0 773.9 L310.0 773.3 L311.0 772.8 L312.0 772.2 L313.0 771.7 L314.0 771.1 L315.0 770.5 L316.0 769.9 L317.0 769.3 L318.0 768.7 L319.0 768.2 L320.0 767.6 L321.0 767.0 L322.0 766.5 L323.0 765.9 L324.0 765.4 L325.0 764.8 L326.0 764.3 L327.0 763.7 L328.0 763.2 L329.0 762.7 L330.0 762.2 L331.0 761.6 L332.0 761.1 L333.0 760.6 L334.0 760.1 L335.0 759.6 L336.0 759.1 L337.0 758.5 L338.0 758.0 L339.0 757.5 L340.0 757.0 L341.0 756.4 L342.0 755.9 L343.0 755.4 L344.0 754.8 L345.0 754.3 L346.0 753.8 L347.0 753.2 L348.0 752.7 L349.0 752.2 L350.0 751.6 L351.0 751.1 L352.0 750.6 L353.0 750.0 L354.0 749.5 L355.0 749.0 L356.0 748.4 L357.0 747.9 L358.0 747.4 L359.0 746.8 L360.0 746.3 L361.0 745.8 L362.0 745.3 L363.0 744.7 L364.0 744.2 L365.0 743.7 L366.0 743.1 L367.0 742.6 L368.0 742.1 L369.0 741.5 L370.0 741.0 L371.0 740.5 L372.0 740.0 L373.0 739.4 L374.0 738.9 L375.0 738.4 L376.0 737.9 L377.0 737.3 L378.0 736.8 L379.0 736.3 L380.0 735.8 L381.0 735.2 L382.0 734.7 L383.0 734.2 L384.0 733.7 L385.0 733.2 L386.0 732.7 L387.0 732.1 L388.0 731.6 L389.0 731.1 L390.0 730.6 L391.0 730.1 L392.0 729.6 L393.0 729.1 L394.0 728.6 L395.0 728.0 L396.0 727.5 L397.0 727.0 L398.0 726.5 L399.0 726.0 L400.0 725.5 L401.0 725.0 L402.0 724.5 L403.0 724.0 L404.0 723.5 L405.0 723.0 L406.0 722.5 L407.0 722.1 L408.0 721.6 L409.0 721.1 L410.0 720.6 L411.0 720.1 L412.0 719.6 L413.0 719.1 L414.0 718.7 L415.0 718.2 L416.0 717.7 L417.0 717.2 L418.0 716.7 L419.0 716.3 L420.0 715.8 L421.0 715.3 L422.0 714.9 L423.0 714.4 L424.0 713.9 L425.0 713.5 L426.0 713.0 L427.0 712.6 L428.0 712.1 L429.0 711.7 L430.0 711.2 L431.0 710.8 L432.0 710.3 L433.0 709.9 L434.0 709.4 L435.0 709.0 L436.0 708.5 L437.0 708.1 L438.0 707.7 L439.0 707.2 L440.0 706.8 L441.0 706.4 L442.0 706.0 L443.0 705.5 L444.0 705.1 L445.0 704.7 L446.0 704.3 L447.0 703.9 L448.0 703.5 L449.0 703.1 L450.0 702.6 L451.0 702.2 L452.0 701.8 L453.0 701.4 L454.0 701.0 L455.0 700.7 L456.0 700.3 L457.0 699.9 L458.0 699.5 L459.0 699.1 L460.0 698.7 L461.0 698.3 L462.0 698.0 L463.0 697.6 L464.0 697.2 L465.0 696.8 L466.0 696.5 L467.0 696.1 L468.0 695.7 L469.0 695.4 L470.0 695.0 L471.0 694.6 L472.0 694.3 L473.0 693.9 L474.0 693.6 L475.0 693.2 L476.0 692.9 L477.0 692.5 L478.0 692.2 L479.0 691.8 L480.0 691.5 L481.0 691.1 L482.0 690.8 L483.0 690.5 L484.0 690.1 L485.0 689.8 L486.0 689.5 L487.0 689.1 L488.0 688.8 L489.0 688.5 L490.0 688.2 L491.0 687.9 L492.0 687.5 L493.0 687.2 L494.0 686.9 L495.0 686.6 L496.0 686.3 L497.0 686.0 L498.0 685.7 L499.0 685.4 L500.0 685.1 L501.0 684.8 L502.0 684.5 L503.0 684.2 L504.0 683.9 L505.0 683.6 L506.0 683.3 L507.0 683.0 L508.0 682.7 L509.0 682.4 L510.0 682.1 L511.0 681.8 L512.0 681.6 L513.0 681.3 L514.0 681.0 L515.0 680.7 L516.0 680.4 L517.0 680.2 L518.0 679.9 L519.0 679.6 L520.0 679.4 L521.0 679.1 L522.0 678.8 L523.0 678.6 L524.0 678.3 L525.0 678.0 L526.0 677.8 L527.0 677.5 L528.0 677.3 L529.0 677.0 L530.0 676.8 L531.0 676.5 L532.0 676.3 L533.0 676.0 L534.0 675.8 L535.0 675.5 L536.0 675.3 L537.0 675.0 L538.0 674.8 L539.0 674.6 L540.0 674.3 L541.0 674.1 L542.0 673.9 L543.0 673.6 L544.0 673.4 L545.0 673.2 L546.0 672.9 L547.0 672.7 L548.0 672.5 L549.0 672.3 L550.0 672.0 L551.0 671.8 L552.0 671.6 L553.0 671.4 L554.0 671.2 L555.0 671.0 L556.0 670.7 L557.0 670.5 L558.0 670.3 L559.0 670.1 L560.0 669.9 L561.0 669.7 L562.0 669.5 L563.0 669.3 L564.0 669.1 L565.0 668.9 L566.0 668.7 L567.0 668.5 L568.0 668.3 L569.0 668.1 L570.0 667.9 L571.0 667.7 L572.0 667.5 L573.0 667.3 L574.0 667.1 L575.0 666.9 L576.0 666.8 L577.0 666.6 L578.0 666.4 L579.0 666.2 L580.0 666.0 L581.0 665.8 L582.0 665.6 L583.0 665.5 L584.0 665.3 L585.0 665.1 L586.0 664.9 L587.0 664.8 L588.0 664.6 L589.0 664.4 L590.0 664.2 L591.0 664.1 L592.0 663.9 L593.0 663.7 L594.0 663.6 L595.0 663.4 L596.0 663.2 L597.0 663.1 L598.0 662.9 L599.0 662.7 L600.0 662.6 L601.0 662.4 L602.0 662.3 L603.0 662.1 L604.0 662.0 L605.0 661.8 L606.0 661.6 L607.0 661.5 L608.0 661.3 L609.0 661.2 L610.0 661.0 L611.0 660.9 L612.0 660.7 L613.0 660.6 L614.0 660.4 L615.0 660.3 L616.0 660.1 L617.0 660.0 L618.0 659.8 L619.0 659.7 L620.0 659.6 L621.0 659.4 L622.0 659.3 L623.0 659.1 L624.0 659.0 L625.0 658.9 L626.0 658.7 L627.0 658.6 L628.0 658.4 L629.0 658.3 L630.0 658.2 L631.0 658.0 L632.0 657.9 L633.0 657.8 L634.0 657.6 L635.0 657.5 L636.0 657.4 L637.0 657.3 L638.0 657.1 L639.0 657.0 L640.0 656.9 L641.0 656.7 L642.0 656.6 L643.0 656.5 L644.0 656.4 L645.0 656.2 L646.0 656.1 L647.0 656.0 L648.0 655.9 L649.0 655.7 L650.0 655.6 L651.0 655.5 L652.0 655.4 L653.0 655.3 L654.0 655.1 L655.0 655.0 L656.0 654.9 L657.0 654.8 L658.0 654.7 L659.0 654.6 L660.0 654.4 L661.0 654.3 L662.0 654.2 L663.0 654.1 L664.0 654.0 L665.0 653.9 L666.0 653.8 L667.0 653.6 L668.0 653.5 L669.0 653.4 L670.0 653.3 L671.0 653.2 L672.0 653.1 L673.0 653.0 L674.0 652.9 L675.0 652.8 L676.0 652.7 L677.0 652.5 L678.0 652.4 L679.0 652.3 L680.0 652.2 L681.0 652.1 L682.0 652.0 L683.0 651.9 L684.0 651.8 L685.0 651.7 L686.0 651.6 L687.0 651.5 L688.0 651.4 L689.0 651.3 L690.0 651.2 L691.0 651.1 L692.0 651.0 L693.0 650.9 L694.0 650.7 L695.0 650.6 L696.0 650.5 L697.0 650.4 L698.0 650.3 L699.0 650.2 L700.0 650.1 L701.0 650.0 L702.0 649.9 L703.0 649.8 L704.0 649.7 L705.0 649.6 L706.0 649.5 L707.0 649.4 L708.0 649.3 L709.0 649.2 L710.0 649.1 L711.0 649.0 L712.0 648.9 L713.0 648.8 L714.0 648.7 L715.0 648.6 L716.0 648.5 L717.0 648.4 L718.0 648.3 L719.0 648.2 L720.0 648.1 L721.0 648.0 L722.0 647.9 L723.0 647.8 L724.0 647.7 L725.0 647.6 L726.0 647.5 L727.0 647.4 L728.0 647.3 L729.0 647.2 L730.0 647.1 L731.0 647.0 L732.0 646.9 L733.0 646.8 L734.0 646.7 L735.0 646.6 L736.0 646.5 L737.0 646.4 L738.0 646.3 L739.0 646.2 L740.0 646.1 L741.0 646.0 L742.0 645.9 L743.0 645.8 L744.0 645.7 L745.0 645.6 L746.0 645.5 L747.0 645.4 L748.0 645.3 L749.0 645.2 L750.0 645.1 L751.0 644.9 L752.0 644.8 L753.0 644.7 L754.0 644.6 L755.0 644.5 L756.0 644.4 L757.0 644.3 L758.0 644.2 L759.0 644.1 L760.0 644.0 L761.0 643.9 L762.0 643.8 L763.0 643.7 L764.0 643.6 L765.0 643.5 L766.0 643.3 L767.0 643.2 L768.0 643.1 L769.0 643.0 L770.0 642.9 L771.0 642.8 L772.0 642.7 L773.0 642.6 L774.0 642.5 L775.0 642.3 L776.0 642.2 L777.0 642.1 L778.0 642.0 L779.0 641.9 L780.0 641.8 L781.0 641.7 L782.0 641.5 L783.0 641.4 L784.0 641.3 L785.0 641.2 L786.0 641.1 L787.0 641.0 L788.0 640.8 L789.0 640.7 L790.0 640.6 L791.0 640.5 L792.0 640.3 L793.0 640.2 L794.0 640.1 L795.0 640.0 L796.0 639.9 L797.0 639.7 L798.0 639.6 L799.0 639.5 L800.0 639.4 L801.0 639.2 L802.0 639.1 L803.0 639.0 L804.0 638.8 L805.0 638.7 L806.0 638.6 L807.0 638.4 L808.0 638.3" stroke="#260c30"/>
<path d="M160.0 946.2 L161.0 946.2 L162.0 946.1 L163.0 946.1 L164.0 946.0 L165.0 945.9 L166.0 945.8 L167.0 945.7 L168.0 945.5 L169.0 945.4 L170.0 945.2 L171.0 945.1 L172.0 944.9 L173.0 944.7 L174.0 944.4 L175.0 944.1 L176.0 943.8 L177.0 943.5 L178.0 943.1 L179.0 942.8 L180.0 942.5 L181.0 942.1 L182.0 941.8 L183.0 941.4 L184.0 941.0 L185.0 940.6 L186.0 940.0 L187.0 939.5 L188.0 938.7 L189.0 937.9 L190.0 936.9 L191.0 935.9 L192.0 934.8 L193.0 933.6 L194.0 932.4 L195.0 931.0 L196.0 929.6 L197.0 927.9 L198.0 926.1 L199.0 923.9 L200.0 921.6 L201.0 919.1 L202.0 916.5 L203.0 913.8 L204.0 911.0 L205.0 908.3 L206.0 905.5 L207.0 902.7 L208.0 899.7 L209.0 896.5 L210.0 893.2 L211.0 890.0 L212.0 886.8 L213.0 883.8 L214.0 880.8 L215.0 877.8 L216.0 874.7 L217.0 871.7 L218.0 868.9 L219.0 866.2 L220.0 863.7 L221.0 861.4 L222.0 859.1 L223.0 857.0 L224.0 854.9 L225.0 853.0 L226.0 851.1 L227.0 849.4 L228.0 847.7 L229.0 846.2 L230.0 844.7 L231.0 843.4 L232.0 842.0 L233.0 840.8 L234.0 839.7 L235.0 838.7 L236.0 837.8 L237.0 837.0 L238.0 836.4 L239.0 835.8 L240.0 835.2 L241.0 834.7 L242.0 834.1 L243.0 833.5 L244.0 832.9 L245.0 832.3 L246.0 831.7 L247.0 831.1 L248.0 830.5 L249.0 829.9 L250.0 829.2 L251.0 828.6 L252.0 827.9 L253.0 827.3 L254.0 826.6 L255.0 825.9 L256.0 825.2 L257.0 824.5 L258.0 823.8 L259.0 823.0 L260.0 822.3 L261.0 821.5 L262.0 820.7 L263.0 819.9 L264.0 819.0 L265.0 818.2 L266.0 817.3 L267.0 816.5 L268.0 815.6 L269.0 814.8 L270.0 813.9 L271.0 813.1 L272.0 812.2 L273.0 811.4 L274.0 810.5 L275.0 809.6 L276.0 808.6 L277.0 807.7 L278.0 806.7 L279.0 805.7 L280.0 804.6 L281.0 803.6 L282.0 802.4 L283.0 801.2 L284.0 800.1 L285.0 798.9 L286.0 797.9 L287.0 796.9 L288.0 796.0 L289.0 795.0 L290.0 794.1 L291.0 793.2 L292.0 792.3 L293.0 791.4 L294.0 790.5 L295.0 789.6 L296.0 788.6 L297.0 787.7 L298.0 786.7 L299.0 785.7 L300.0 784.7 L301.0 783.7 L302.0 782.6 L303.0 781.5 L304.0 780.4 L305.0 779.3 L306.0 778.2 L307.0 777.1 L308.0 776.0 L309.0 774.8 L310.0 773.7 L311.0 772.6 L312.0 771.5 L313.0 770.4 L314.0 769.4 L315.0 768.4 L316.0 767.4 L317.0 766.4 L318.0 765.4 L319.0 764.5 L320.0 763.6 L321.0 762.6 L322.0 761.7 L323.0 760.7 L324.0 759.8 L325.0 758.8 L326.0 757.8 L327.0 756.9 L328.0 755.9 L329.0 755.0 L330.0 754.0 L331.0 753.1 L332.0 752.2 L333.0 751.2 L334.0 750.3 L335.0 749.5 L336.0 748.6 L337.0 747.7 L338.0 746.9 L339.0 746.0 L340.0 745.2 L341.0 744.3 L342.0 743.5 L343.0 742.6 L344.0 741.8 L345.0 741.0 L346.0 740.1 L347.0 739.3 L348.0 738.5 L349.0 737.7 L350.0 736.9 L351.0 736.1 L352.0 735.3 L353.0 734.5 L354.0 733.7 L355.0 732.9 L356.0 732.2 L357.0 731.4 L358.0 730.6 L359.0 729.9 L360.0 729.1 L361.0 728.4 L362.0 727.7 L363.0 726.9 L364.0 726.2 L365.0 725.5 L366.0 724.7 L367.0 724.0 L368.0 723.3 L369.0 722.6 L370.0 721.9 L371.0 721.2 L372.0 720.5 L373.0 719.8 L374.0 719.2 L375.0 718.5 L376.0 717.8 L377.0 717.2 L378.0 716.5 L379.0 715.8 L380.0 715.2 L381.0 714.5 L382.0 713.9 L383.0 713.3 L384.0 712.6 L385.0 712.0 L386.0 711.4 L387.0 710.8 L388.0 710.1 L389.0 709.5 L390.0 708.9 L391.0 708.3 L392.0 707.7 L393.0 707.1 L394.0 706.5 L395.0 706.0 L396.0 705.4 L397.0 704.8 L398.0 704.2 L399.0 703.7 L400.0 703.1 L401.0 702.5 L402.0 702.0 L403.0 701.4 L404.0 700.9 L405.0 700.4 L406.0 699.8 L407.0 699.3 L408.0 698.8 L409.0 698.2 L410.0 697.7 L411.0 697.2 L412.0 696.7 L413.0 696.2 L414.0 695.7 L415.0 695.2 L416.0 694.7 L417.0 694.2 L418.0 693.7 L419.0 693.2 L420.0 692.7 L421.0 692.2 L422.0 691.8 L423.0 691.3 L424.0 690.8 L425.0 690.4 L426.0 689.9 L427.0 689.4 L428.0 689.0 L429.0 688.5 L430.0 688.1 L431.0 687.7 L432.0 687.2 L433.0 686.8 L434.0 686.3 L435.0 685.9 L436.0 685.5 L437.0 685.1 L438.0 684.6 L439.0 684.2 L440.0 683.8 L441.0 683.4 L442.0 683.0 L443.0 682.6 L444.0 682.2 L445.0 681.8 L446.0 681.4 L447.0 681.0 L448.0 680.6 L449.0 680.2 L450.0 679.9 L451.0 679.5 L452.0 679.1 L453.0 678.7 L454.0 678.4 L455.0 678.0 L456.0 677.6 L457.0 677.3 L458.0 676.9 L459.0 676.6 L460.0 676.2 L461.0 675.9 L462.0 675.5 L463.0 675.2 L464.0 674.8 L465.0 674.5 L466.0 674.2 L467.0 673.8 L468.0 673.5 L469.0 673.2 L470.0 672.9 L471.0 672.5 L472.0 672.2 L473.0 671.9 L474.0 671.6 L475.0 671.3 L476.0 671.0 L477.0 670.7 L478.0 670.4 L479.0 670.1 L480.0 669.8 L481.0 669.5 L482.0 669.2 L483.0 668.9 L484.0 668.6 L485.0 668.3 L486.0 668.0 L487.0 667.8 L488.0 667.5 L489.0 667.2 L490.0 666.9 L491.0 666.7 L492.0 666.4 L493.0 666.1 L494.0 665.9 L495.0 665.6 L496.0 665.3 L497.0 665.1 L498.0 664.8 L499.0 664.6 L500.0 664.3 L501.0 664.1 L502.0 663.8 L503.0 663.6 L504.0 663.4 L505.0 663.1 L506.0 662.9 L507.0 662.6 L508.0 662.4 L509.0 662.2 L510.0 662.0 L511.0 661.7 L512.0 661.5 L513.0 661.3 L514.0 661.1 L515.0 660.8 L516.0 660.6 L517.0 660.4 L518.0 660.2 L519.0 660.0 L520.0 659.8 L521.0 659.6 L522.0 659.3 L523.0 659.1 L524.0 658.9 L525.0 658.7 L526.0 658.5 L527.0 658.3 L528.0 658.1 L529.0 658.0 L530.0 657.8 L531.0 657.6 L532.0 657.4 L533.0 657.2 L534.0 657.0 L535.0 656.8 L536.0 656.6 L537.0 656.5 L538.0 656.3 L539.0 656.1 L540.0 655.9 L541.0 655.7 L542.0 655.6 L543.0 655.4 L544.0 655.2 L545.0 655.0 L546.0 654.9 L547.0 654.7 L548.0 654.5 L549.0 654.4 L550.0 654.2 L551.0 654.1 L552.0 653.9 L553.0 653.7 L554.0 653.6 L555.0 653.4 L556.0 653.3 L557.0 653.1 L558.0 652.9 L559.0 652.8 L560.0 652.6 L561.0 652.5 L562.0 652.3 L563.0 652.2 L564.0 652.0 L565.0 651.9 L566.0 651.8 L567.0 651.6 L568.0 651.5 L569.0 651.3 L570.0 651.2 L571.0 651.0 L572.0 650.9 L573.0 650.8 L574.0 650.6 L575.0 650.5 L576.0 650.3 L577.0 650.2 L578.0 650.1 L579.0 649.9 L580.0 649.8 L581.0 649.7 L582.0 649.5 L583.0 649.4 L584.0 649.3 L585.0 649.2 L586.0 649.0 L587.0 648.9 L588.0 648.8 L589.0 648.6 L590.0 648.5 L591.0 648.4 L592.0 648.3 L593.0 648.1 L594.0 648.0 L595.0 647.9 L596.0 647.8 L597.0 647.6 L598.0 647.5 L599.0 647.4 L600.0 647.3 L601.0 647.2 L602.0 647.0 L603.0 646.9 L604.0 646.8 L605.0 646.7 L606.0 646.5 L607.0 646.4 L608.0 646.3 L609.0 646.2 L610.0 646.1 L611.0 645.9 L612.0 645.8 L613.0 645.7 L614.0 645.6 L615.0 645.5 L616.0 645.4 L617.0 645.2 L618.0 645.1 L619.0 645.0 L620.0 644.9 L621.0 644.8 L622.0 644.6 L623.0 644.5 L624.0 644.4 L625.0 644.3 L626.0 644.2 L627.0 644.1 L628.0 643.9 L629.0 643.8 L630.0 643.7 L631.0 643.6 L632.0 643.5 L633.0 643.4 L634.0 643.2 L635.0 643.1 L636.0 643.0 L637.0 642.9 L638.0 642.8 L639.0 642.7 L640.0 642.5 L641.0 642.4 L642.0 642.3 L643.0 642.2 L644.0 642.1 L645.0 642.0 L646.0 641.8 L647.0 641.7 L648.0 641.6 L649.0 641.5 L650.0 641.4 L651.0 641.2 L652.0 641.1 L653.0 641.0 L654.0 640.9 L655.0 640.8 L656.0 640.7 L657.0 640.6 L658.0 640.4 L659.0 640.3 L660.0 640.2 L661.0 640.1 L662.0 640.0 L663.0 639.9 L664.0 639.7 L665.0 639.6 L666.0 639.5 L667.0 639.4 L668.0 639.3 L669.0 639.2 L670.0 639.0 L671.0 638.9 L672.0 638.8 L673.0 638.7 L674.0 638.6 L675.0 638.5 L676.0 638.4 L677.0 638.2 L678.0 638.1 L679.0 638.0 L680.0 637.9 L681.0 637.8 L682.0 637.7 L683.0 637.5 L684.0 637.4 L685.0 637.3 L686.0 637.2 L687.0 637.1 L688.0 637.0 L689.0 636.9 L690.0 636.7 L691.0 636.6 L692.0 636.5 L693.0 636.4 L694.0 636.3 L695.0 636.2 L696.0 636.1 L697.0 635.9 L698.0 635.8 L699.0 635.7 L700.0 635.6 L701.0 635.5 L702.0 635.4 L703.0 635.3 L704.0 635.2 L705.0 635.0 L706.0 634.9 L707.0 634.8 L708.0 634.7 L709.0 634.6 L710.0 634.5 L711.0 634.4 L712.0 634.3 L713.0 634.1 L714.0 634.0 L715.0 633.9 L716.0 633.8 L717.0 633.7 L718.0 633.6 L719.0 633.5 L720.0 633.4 L721.0 633.2 L722.0 633.1 L723.0 633.0 L724.0 632.9 L725.0 632.8 L726.0 632.7 L727.0 632.6 L728.0 632.5 L729.0 632.3 L730.0 632.2 L731.0 632.1 L732.0 632.0 L733.0 631.9 L734.0 631.8 L735.0 631.7 L736.0 631.6 L737.0 631.5 L738.0 631.4 L739.0 631.2 L740.0 631.1 L741.0 631.0 L742.0 630.9 L743.0 630.8 L744.0 630.7 L745.0 630.6 L746.0 630.5 L747.0 630.4 L748.0 630.3 L749.0 630.1 L750.0 630.0 L751.0 629.9 L752.0 629.8 L753.0 629.7 L754.0 629.6 L755.0 629.5 L756.0 629.4 L757.0 629.3 L758.0 629.2 L759.0 629.1 L760.0 628.9 L761.0 628.8 L762.0 628.7 L763.0 628.6 L764.0 628.5 L765.0 628.4 L766.0 628.3 L767.0 628.2 L768.0 628.1 L769.0 628.0 L770.0 627.9 L771.0 627.8 L772.0 627.7 L773.0 627.5 L774.0 627.4 L775.0 627.3 L776.0 627.2 L777.0 627.1 L778.0 627.0 L779.0 626.9 L780.0 626.8 L781.0 626.7 L782.0 626.6 L783.0 626.5 L784.0 626.4 L785.0 626.3 L786.0 626.2 L787.0 626.1 L788.0 626.0 L789.0 625.8 L790.0 625.7 L791.0 625.6 L792.0 625.5 L793.0 625.4 L794.0 625.3 L795.0 625.2 L796.0 625.1 L797.0 625.0 L798.0 624.9 L799.0 624.8 L800.0 624.7 L801.0 624.6 L802.0 624.5 L803.0 624.4 L804.0 624.3 L805.0 624.2 L806.0 624.1 L807.0 624.0 L808.0 623.9" stroke="#5e52ad"/>
<path d="M160.0 973.5 L161.0 973.4 L162.0 973.3 L163.0 973.0 L164.0 972.8 L165.0 972.4 L166.0 972.1 L167.0 971.6 L168.0 971.0 L169.0 970.3 L170.0 969.5 L171.0 968.5 L172.0 967.4 L173.0 966.2 L174.0 964.7 L175.0 963.0 L176.0 961.1 L177.0 958.9 L178.0 956.3 L179.0 953.4 L180.0 950.1 L181.0 946.4 L182.0 942.4 L183.0 938.3 L184.0 934.2 L185.0 930.4 L186.0 926.8 L187.0 923.5 L188.0 920.5 L189.0 917.6 L190.0 914.8 L191.0 912.2 L192.0 909.7 L193.0 907.4 L194.0 905.2 L195.0 903.1 L196.0 901.2 L197.0 899.4 L198.0 897.8 L199.0 896.3 L200.0 894.9 L201.0 893.5 L202.0 892.1 L203.0 890.6 L204.0 889.2 L205.0 887.7 L206.0 886.4 L207.0 885.1 L208.0 883.8 L209.0 882.6 L210.0 881.5 L211.0 880.4 L212.0 879.4 L213.0 878.4 L214.0 877.5 L215.0 876.5 L216.0 875.6 L217.0 874.7 L218.0 873.7 L219.0 872.8 L220.0 871.8 L221.0 870.7 L222.0 869.5 L223.0 868.3 L224.0 867.0 L225.0 865.7 L226.0 864.4 L227.0 863.1 L228.0 861.8 L229.0 860.5 L230.0 859.3 L231.0 858.0 L232.0 856.7 L233.0 855.3 L234.0 853.8 L235.0 852.3 L236.0 850.6 L237.0 848.9 L238.0 847.0 L239.0 845.2 L240.0 843.2 L241.0 841.2 L242.0 839.2 L243.0 837.0 L244.0 834.7 L245.0 832.4 L246.0 830.1 L247.0 828.0 L248.0 826.0 L249.0 824.1 L250.0 822.4 L251.0 820.8 L252.0 819.2 L253.0 817.6 L254.0 816.0 L255.0 814.3 L256.0 812.6 L257.0 810.8 L258.0 809.0 L259.0 807.2 L260.0 805.3 L261.0 803.6 L262.0 801.9 L263.0 800.3 L264.0 798.7 L265.0 797.1 L266.0 795.5 L267.0 793.8 L268.0 792.0 L269.0 790.2 L270.0 788.4 L271.0 786.7 L272.0 785.0 L273.0 783.3 L274.0 781.6 L275.0 779.9 L276.0 778.3 L277.0 776.7 L278.0 775.2 L279.0 773.8 L280.0 772.3 L281.0 771.0 L282.0 769.6 L283.0 768.2 L284.0 766.9 L285.0 765.5 L286.0 764.1 L287.0 762.6 L288.0 761.1 L289.0 759.5 L290.0 758.0 L291.0 756.4 L292.0 754.8 L293.0 753.3 L294.0 751.8 L295.0 750.2 L296.0 748.7 L297.0 747.2 L298.0 745.7 L299.0 744.2 L300.0 742.8 L301.0 741.5 L302.0 740.2 L303.0 739.0 L304.0 737.8 L305.0 736.7 L306.0 735.6 L307.0 734.5 L308.0 733.4 L309.0 732.3 L310.0 731.1 L311.0 730.0 L312.0 728.9 L313.0 727.8 L314.0 726.6 L315.0 725.5 L316.0 724.4 L317.0 723.4 L318.0 722.4 L319.0 721.4 L320.0 720.5 L321.0 719.6 L322.0 718.7 L323.0 717.7 L324.0 716.8 L325.0 715.9 L326.0 714.9 L327.0 714.0 L328.0 713.0 L329.0 712.1 L330.0 711.2 L331.0 710.3 L332.0 709.4 L333.0 708.5 L334.0 707.6 L335.0 706.7 L336.0 705.8 L337.0 704.9 L338.0 704.0 L339.0 703.2 L340.0 702.3 L341.0 701.5 L342.0 700.6 L343.0 699.8 L344.0 699.0 L345.0 698.2 L346.0 697.4 L347.0 696.6 L348.0 695.8 L349.0 695.1 L350.0 694.3 L351.0 693.6 L352.0 692.8 L353.0 692.1 L354.0 691.4 L355.0 690.7 L356.0 690.0 L357.0 689.3 L358.0 688.6 L359.0 687.9 L360.0 687.2 L361.0 686.6 L362.0 685.9 L363.0 685.2 L364.0 684.6 L365.0 684.0 L366.0 683.3 L367.0 682.7 L368.0 682.1 L369.0 681.5 L370.0 680.9 L371.0 680.3 L372.0 679.7 L373.0 679.2 L374.0 678.6 L375.0 678.0 L376.0 677.5 L377.0 676.9 L378.0 676.4 L379.0 675.9 L380.0 675.3 L381.0 674.8 L382.0 674.3 L383.0 673.8 L384.0 673.3 L385.0 672.8 L386.0 672.3 L387.0 671.9 L388.0 671.4 L389.0 670.9 L390.0 670.5 L391.0 670.0 L392.0 669.6 L393.0 669.1 L394.0 668.7 L395.0 668.3 L396.0 667.8 L397.0 667.4 L398.0 667.0 L399.0 666.6 L400.0 666.2 L401.0 665.8 L402.0 665.4 L403.0 665.0 L404.0 664.6 L405.0 664.3 L406.0 663.9 L407.0 663.5 L408.0 663.2 L409.0 662.8 L410.0 662.5 L411.0 662.1 L412.0 661.8 L413.0 661.4 L414.0 661.1 L415.0 660.8 L416.0 660.5 L417.0 660.1 L418.0 659.8 L419.0 659.5 L420.0 659.2 L421.0 658.9 L422.0 658.6 L423.0 658.3 L424.0 658.0 L425.0 657.8 L426.0 657.5 L427.0 657.2 L428.0 656.9 L429.0 656.7 L430.0 656.4 L431.0 656.1 L432.0 655.9 L433.0 655.6 L434.0 655.4 L435.0 655.1 L436.0 654.9 L437.0 654.6 L438.0 654.4 L439.0 654.2 L440.0 653.9 L441.0 653.7 L442.0 653.5 L443.0 653.2 L444.0 653.0 L445.0 652.8 L446.0 652.6 L447.0 652.4 L448.0 652.2 L449.0 652.0 L450.0 651.7 L451.0 651.5 L452.0 651.3 L453.0 651.1 L454.0 650.9 L455.0 650.7 L456.0 650.6 L457.0 650.4 L458.0 650.2 L459.0 650.0 L460.0 649.8 L461.0 649.6 L462.0 649.4 L463.0 649.2 L464.0 649.1 L465.0 648.9 L466.0 648.7 L467.0 648.5 L468.0 648.4 L469.0 648.2 L470.0 648.0 L471.0 647.8 L472.0 647.7 L473.0 647.5 L474.0 647.3 L475.0 647.2 L476.0 647.0 L477.0 646.8 L478.0 646.7 L479.0 646.5 L480.0 646.3 L481.0 646.2 L482.0 646.0 L483.0 645.9 L484.0 645.7 L485.0 645.5 L486.0 645.4 L487.0 645.2 L488.0 645.1 L489.0 644.9 L490.0 644.8 L491.0 644.6 L492.0 644.5 L493.0 644.3 L494.0 644.2 L495.0 644.0 L496.0 643.9 L497.0 643.7 L498.0 643.6 L499.0 643.4 L500.0 643.3 L501.0 643.1 L502.0 643.0 L503.0 642.9 L504.0 642.7 L505.0 642.6 L506.0 642.4 L507.0 642.3 L508.0 642.2 L509.0 642.0 L510.0 641.9 L511.0 641.8 L512.0 641.6 L513.0 641.5 L514.0 641.4 L515.0 641.2 L516.0 641.1 L517.0 641.0 L518.0 640.8 L519.0 640.7 L520.0 640.6 L521.0 640.5 L522.0 640.3 L523.0 640.2 L524.0 640.1 L525.0 640.0 L526.0 639.8 L527.0 639.7 L528.0 639.6 L529.0 639.5 L530.0 639.4 L531.0 639.2 L532.0 639.1 L533.0 639.0 L534.0 638.9 L535.0 638.8 L536.0 638.7 L537.0 638.5 L538.0 638.4 L539.0 638.3 L540.0 638.2 L541.0 638.1 L542.0 638.0 L543.0 637.9 L544.0 637.7 L545.0 637.6 L546.0 637.5 L547.0 637.4 L548.0 637.3 L549.0 637.2 L550.0 637.1 L551.0 637.0 L552.0 636.9 L553.0 636.8 L554.0 636.7 L555.0 636.6 L556.0 636.5 L557.0 636.4 L558.0 636.3 L559.0 636.2 L560.0 636.1 L561.0 636.0 L562.0 635.9 L563.0 635.8 L564.0 635.7 L565.0 635.6 L566.0 635.5 L567.0 635.4 L568.0 635.3 L569.0 635.2 L570.0 635.1 L571.0 635.0 L572.0 634.9 L573.0 634.8 L574.0 634.7 L575.0 634.6 L576.0 634.5 L577.0 634.4 L578.0 634.3 L579.0 634.2 L580.0 634.1 L581.0 634.0 L582.0 633.9 L583.0 633.9 L584.0 633.8 L585.0 633.7 L586.0 633.6 L587.0 633.5 L588.0 633.4 L589.0 633.3 L590.0 633.2 L591.0 633.1 L592.0 633.1 L593.0 633.0 L594.0 632.9 L595.0 632.8 L596.0 632.7 L597.0 632.6 L598.0 632.5 L599.0 632.5 L600.0 632.4 L601.0 632.3 L602.0 632.2 L603.0 632.1 L604.0 632.0 L605.0 631.9 L606.0 631.9 L607.0 631.8 L608.0 631.7 L609.0 631.6 L610.0 631.5 L611.0 631.5 L612.0 631.4 L613.0 631.3 L614.0 631.2 L615.0 631.1 L616.0 631.0 L617.0 631.0 L618.0 630.9 L619.0 630.8 L620.0 630.7 L621.0 630.6 L622.0 630.6 L623.0 630.5 L624.0 630.4 L625.0 630.3 L626.0 630.3 L627.0 630.2 L628.0 630.1 L629.0 630.0 L630.0 629.9 L631.0 629.9 L632.0 629.8 L633.0 629.7 L634.0 629.6 L635.0 629.5 L636.0 629.5 L637.0 629.4 L638.0 629.3 L639.0 629.2 L640.0 629.2 L641.0 629.1 L642.0 629.0 L643.0 628.9 L644.0 628.9 L645.0 628.8 L646.0 628.7 L647.0 628.6 L648.0 628.5 L649.0 628.5 L650.0 628.4 L651.0 628.3 L652.0 628.2 L653.0 628.2 L654.0 628.1 L655.0 628.0 L656.0 627.9 L657.0 627.9 L658.0 627.8 L659.0 627.7 L660.0 627.6 L661.0 627.5 L662.0 627.5 L663.0 627.4 L664.0 627.3 L665.0 627.2 L666.0 627.2 L667.0 627.1 L668.0 627.0 L669.0 626.9 L670.0 626.9 L671.0 626.8 L672.0 626.7 L673.0 626.6 L674.0 626.5 L675.0 626.5 L676.0 626.4 L677.0 626.3 L678.0 626.2 L679.0 626.1 L680.0 626.1 L681.0 626.0 L682.0 625.9 L683.0 625.8 L684.0 625.8 L685.0 625.7 L686.0 625.6 L687.0 625.5 L688.0 625.4 L689.0 625.4 L690.0 625.3 L691.0 625.2 L692.0 625.1 L693.0 625.0 L694.0 624.9 L695.0 624.9 L696.0 624.8 L697.0 624.7 L698.0 624.6 L699.0 624.5 L700.0 624.5 L701.0 624.4 L702.0 624.3 L703.0 624.2 L704.0 624.1 L705.0 624.0 L706.0 623.9 L707.0 623.9 L708.0 623.8 L709.0 623.7 L710.0 623.6 L711.0 623.5 L712.0 623.4 L713.0 623.3 L714.0 623.3 L715.0 623.2 L716.0 623.1 L717.0 623.0 L718.0 622.9 L719.0 622.8 L720.0 622.7 L721.0 622.6 L722.0 622.5 L723.0 622.5 L724.0 622.4 L725.0 622.3 L726.0 622.2 L727.0 622.1 L728.0 622.0 L729.0 621.9 L730.0 621.8 L731.0 621.7 L732.0 621.6 L733.0 621.5 L734.0 621.4 L735.0 621.3 L736.0 621.2 L737.0 621.1 L738.0 621.0 L739.0 620.9 L740.0 620.8 L741.0 620.7 L742.0 620.6 L743.0 620.5 L744.0 620.4 L745.0 620.3 L746.0 620.2 L747.0 620.1 L748.0 620.0 L749.0 619.9 L750.0 619.8 L751.0 619.7 L752.0 619.6 L753.0 619.5 L754.0 619.4 L755.0 619.3 L756.0 619.2 L757.0 619.1 L758.0 619.0 L759.0 618.9 L760.0 618.8 L761.0 618.6 L762.0 618.5 L763.0 618.4 L764.0 618.3 L765.0 618.2 L766.0 618.1 L767.0 618.0 L768.0 617.9 L769.0 617.7 L770.0 617.6 L771.0 617.5 L772.0 617.4 L773.0 617.3 L774.0 617.2 L775.0 617.0 L776.0 616.9 L777.0 616.8 L778.0 616.7 L779.0 616.5 L780.0 616.4 L781.0 616.3 L782.0 616.2 L783.0 616.0 L784.0 615.9 L785.0 615.8 L786.0 615.7 L787.0 615.5 L788.0 615.4 L789.0 615.3 L790.0 615.1 L791.0 615.0 L792.0 614.9 L793.0 614.8 L794.0 614.6 L795.0 614.5 L796.0 614.3 L797.0 614.2 L798.0 614.1 L799.0 613.9 L800.0 613.8 L801.0 613.7 L802.0 613.5 L803.0 613.4 L804.0 613.2 L805.0 613.1 L806.0 612.9 L807.0 612.8 L808.0 612.7" stroke="#7aa0c2" stroke-dasharray="10.06 4.35"/>
</g>
<rect x="159.8" y="531.1" width="648.5" height="483.3" fill="none" stroke="#000" stroke-width="1.6"/>
<g stroke="#000" stroke-width="1.8"><line x1="153.3" y1="1014.4" x2="159.8" y2="1014.4"/><line x1="153.3" y1="950.0" x2="159.8" y2="950.0"/><line x1="153.3" y1="885.5" x2="159.8" y2="885.5"/><line x1="153.3" y1="821.1" x2="159.8" y2="821.1"/><line x1="153.3" y1="756.6" x2="159.8" y2="756.6"/><line x1="153.3" y1="692.2" x2="159.8" y2="692.2"/><line x1="153.3" y1="627.8" x2="159.8" y2="627.8"/><line x1="153.3" y1="563.3" x2="159.8" y2="563.3"/><line x1="159.8" y1="1014.4" x2="159.8" y2="1020.8"/><line x1="267.9" y1="1014.4" x2="267.9" y2="1020.8"/><line x1="376.0" y1="1014.4" x2="376.0" y2="1020.8"/><line x1="484.0" y1="1014.4" x2="484.0" y2="1020.8"/><line x1="592.1" y1="1014.4" x2="592.1" y2="1020.8"/><line x1="700.2" y1="1014.4" x2="700.2" y2="1020.8"/><line x1="808.3" y1="1014.4" x2="808.3" y2="1020.8"/></g>
<text transform="translate(145.00,1024.70) scale(1.000,1)" text-anchor="end" style="font-size:29.20px">0</text><text transform="translate(145.00,960.26) scale(1.000,1)" text-anchor="end" style="font-size:29.20px">2</text><text transform="translate(145.00,895.82) scale(1.000,1)" text-anchor="end" style="font-size:29.20px">4</text><text transform="translate(145.00,831.38) scale(1.000,1)" text-anchor="end" style="font-size:29.20px">6</text><text transform="translate(145.00,766.94) scale(1.000,1)" text-anchor="end" style="font-size:29.20px">8</text><text transform="translate(145.00,702.50) scale(1.000,1)" text-anchor="end" style="font-size:29.20px">10</text><text transform="translate(145.00,638.06) scale(1.000,1)" text-anchor="end" style="font-size:29.20px">12</text><text transform="translate(145.00,573.62) scale(1.000,1)" text-anchor="end" style="font-size:29.20px">14</text><text transform="translate(159.80,1053.20) scale(1.000,1)" text-anchor="middle" style="font-size:29.20px">0</text><text transform="translate(267.88,1053.20) scale(1.000,1)" text-anchor="middle" style="font-size:29.20px">100</text><text transform="translate(375.96,1053.20) scale(1.000,1)" text-anchor="middle" style="font-size:29.20px">200</text><text transform="translate(484.04,1053.20) scale(1.000,1)" text-anchor="middle" style="font-size:29.20px">300</text><text transform="translate(592.12,1053.20) scale(1.000,1)" text-anchor="middle" style="font-size:29.20px">400</text><text transform="translate(700.20,1053.20) scale(1.000,1)" text-anchor="middle" style="font-size:29.20px">500</text><text transform="translate(808.28,1053.20) scale(1.000,1)" text-anchor="middle" style="font-size:29.20px">600</text>
<line x1="631.1" y1="837.0" x2="668.3" y2="837.0" stroke="#7aa0c2" stroke-width="2.90" stroke-dasharray="10.06 4.35"/><text transform="translate(679.50,846.90) scale(1.000,1)" text-anchor="start" style="font-size:29.20px"><tspan font-style="italic">L</tspan> = 25</text><line x1="631.5" y1="865.3" x2="668" y2="865.3" stroke="#5e52ad" stroke-width="2.90" stroke-linecap="square"/><text transform="translate(679.50,875.20) scale(1.000,1)" text-anchor="start" style="font-size:29.20px"><tspan font-style="italic">L</tspan> = 50</text><line x1="631.5" y1="893.6" x2="668" y2="893.6" stroke="#260c30" stroke-width="2.90" stroke-linecap="square"/><text transform="translate(679.50,903.50) scale(1.000,1)" text-anchor="start" style="font-size:29.20px"><tspan font-style="italic">L</tspan> = 90</text><line x1="631.5" y1="921.9" x2="668" y2="921.9" stroke="#7e2250" stroke-width="2.90" stroke-linecap="square"/><text transform="translate(679.50,931.80) scale(1.000,1)" text-anchor="start" style="font-size:29.20px"><tspan font-style="italic">L</tspan> = 150</text><line x1="631.1" y1="950.2" x2="668.3" y2="950.2" stroke="#c48166" stroke-width="2.90" stroke-dasharray="10.06 4.35"/><text transform="translate(679.50,960.10) scale(1.000,1)" text-anchor="start" style="font-size:29.20px"><tspan font-style="italic">L</tspan> = 200</text><line x1="631.1" y1="978.5" x2="668.3" y2="978.5" stroke="#777777" stroke-width="2.90" stroke-dasharray="2.72 4.49"/><text transform="translate(679.50,988.40) scale(1.000,1)" text-anchor="start" style="font-size:29.20px">Camera</text>
<g transform="translate(81.2,893.5) rotate(-90)"><text transform="translate(0.00,0.00) scale(0.985,1)" text-anchor="start" style="font-size:29.20px">Average</text><text transform="translate(114.50,0.00) scale(1.083,1)" text-anchor="start" style="font-size:24.60px">σ</text><text transform="translate(132.20,9.30) scale(0.900,1)" text-anchor="start" style="font-size:23.00px">CRB</text><text transform="translate(181.20,0.00) scale(1.000,1)" text-anchor="start" style="font-size:29.20px">(nm)</text></g>
<text transform="translate(484.20,1092.40) scale(1.000,1)" text-anchor="middle" style="font-size:29.20px">Field-of-view (nm)</text>
</svg>
</body></html>
